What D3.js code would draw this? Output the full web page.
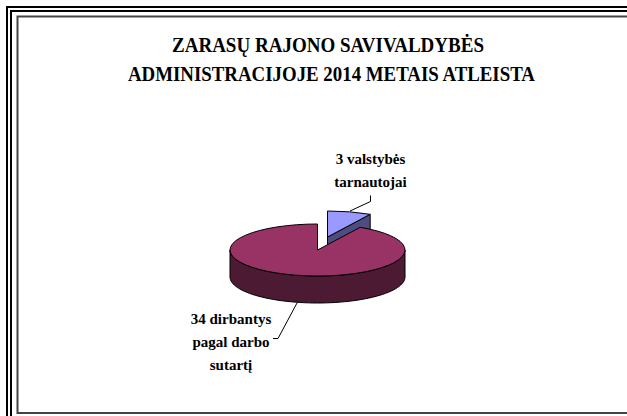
<!DOCTYPE html>
<html>
  <head>
    <meta charset="utf-8">
    <title>Zarasu rajono savivaldybe</title>
    <script src="https://d3js.org/d3.v7.min.js"></script>
    <style>
      html, body { margin: 0; padding: 0; background: #fff; }
      svg { display: block; }
      text { font-family: "Liberation Serif", serif; font-weight: bold; fill: #000; text-anchor: middle; }
    </style>
  </head>
  <body>
    <svg id="chart" width="627" height="416"></svg>
    <script>
// chart data
var titleLines = ["ZARASŲ RAJONO SAVIVALDYBĖS", "ADMINISTRACIJOJE 2014 METAIS ATLEISTA"];
var categories = ["valstybės tarnautojai", "dirbantys pagal darbo sutartį"];
var values = [3, 34];
var labelLines = [["3 valstybės", "tarnautojai"], ["34 dirbantys", "pagal darbo", "sutartį"]];

var topColors = ["#9999ff", "#993366"];
var sideColors = ["#4d4d80", "#4d1a33"];

var svg = d3.select("#chart");

// page frame: double black line and thin grey line inside it
svg.append("path").attr("d", "M7,416V7H627").attr("fill", "none").attr("stroke", "#000").attr("stroke-width", 2);
svg.append("path").attr("d", "M11,416V11H627").attr("fill", "none").attr("stroke", "#000").attr("stroke-width", 2);
svg.append("path").attr("d", "M627,413H17.5V16.5H627").attr("fill", "none").attr("stroke", "#444").attr("stroke-width", 2);

// title, the original is a tall narrow print so the glyphs are squeezed to its width
var titleWidths = [312, 407];
svg.selectAll("text.title")
  .data(titleLines)
  .enter().append("text")
  .attr("class", "title")
  .attr("x", function(d, i) { return i == 0 ? 328 : 331.5; })
  .attr("y", function(d, i) { return 52 + i * 29; })
  .attr("font-size", 22)
  .attr("textLength", function(d, i) { return titleWidths[i]; })
  .attr("lengthAdjust", "spacingAndGlyphs")
  .text(function(d) { return d; });

// pie layout, first slice starts at 12 o'clock and goes clockwise
var pie = d3.pie().sort(null);
var slices = pie(values);

var rx = 87.5, ry = 26, depth = 27;
var cx = 317.5, cy = 250;
var explode = [[10, -13], [0, 0]];

var arc = d3.arc().innerRadius(0).outerRadius(rx);
var yScale = ry / rx;

// point on the rim of the tilted pie
function rim(a) {
  return [rx * Math.sin(a), -ry * Math.cos(a)];
}

// side wall of a slice, following the near half of the rim
function rimSide(d) {
  var p = d3.path();
  var a0 = Math.max(d.startAngle, Math.PI / 2);
  var a1 = Math.min(d.endAngle, Math.PI * 1.5);
  if (a1 <= a0) return "";
  var steps = 60;
  var pts = d3.range(steps + 1).map(function(i) { return rim(a0 + (a1 - a0) * i / steps); });
  pts.forEach(function(q, i) {
    if (i == 0) p.moveTo(q[0], q[1]); else p.lineTo(q[0], q[1]);
  });
  pts.reverse().forEach(function(q) { p.lineTo(q[0], q[1] + depth); });
  p.closePath();
  return p.toString();
}

// cut wall at the end of a slice, only the small slice shows one
function cutSide(d) {
  var q = rim(d.endAngle);
  var p = d3.path();
  p.moveTo(0, 0);
  p.lineTo(q[0], q[1]);
  p.lineTo(q[0], q[1] + depth);
  p.lineTo(0, depth);
  p.closePath();
  return p.toString();
}

var g = svg.selectAll("g.slice")
  .data(slices)
  .enter().append("g")
  .attr("class", "slice")
  .attr("transform", function(d, i) {
    return "translate(" + (cx + explode[i][0]) + "," + (cy + explode[i][1]) + ")";
  });

g.filter(function(d, i) { return i == 0; }).append("path")
  .attr("d", cutSide)
  .attr("fill", sideColors[0])
  .attr("stroke", "#000");

g.append("path")
  .attr("d", rimSide)
  .attr("fill", function(d, i) { return sideColors[i]; })
  .attr("stroke", "#000");

g.append("path")
  .attr("d", arc)
  .attr("transform", "scale(1," + yScale + ")")
  .attr("vector-effect", "non-scaling-stroke")
  .attr("fill", function(d, i) { return topColors[i]; })
  .attr("stroke", "#000");

// leader lines
var leaderLine = d3.line();
var leaders = [
  [[350, 211], [370.5, 201.5], [370.5, 195.5]],
  [[297, 303], [278, 338.5], [273, 338.5]]
];
svg.selectAll("path.leader")
  .data(leaders)
  .enter().append("path")
  .attr("class", "leader")
  .attr("d", leaderLine)
  .attr("fill", "none")
  .attr("stroke", "#000");

// data labels
var labelPos = [[370.5, 163.5], [231, 324]];
labelLines.forEach(function(lines, k) {
  lines.forEach(function(t, i) {
    svg.append("text")
      .attr("x", labelPos[k][0])
      .attr("y", labelPos[k][1] + i * 23)
      .attr("font-size", 15)
      .text(t);
  });
});
    </script>
  </body>
</html>
